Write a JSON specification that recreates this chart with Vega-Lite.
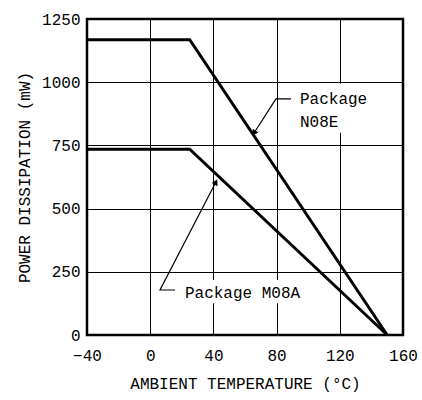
{
  "$schema": "https://vega.github.io/schema/vega-lite/v6.json",
  "width": 316,
  "height": 316,
  "autosize": {"type": "none"},
  "padding": {"left": 87, "top": 19, "right": 19, "bottom": 65},
  "background": "white",
  "config": {
    "view": {"stroke": "black", "strokeWidth": 2.5},
    "axis": {
      "grid": true, "gridColor": "black", "gridWidth": 1, "gridOpacity": 1,
      "ticks": false, "domain": false, "labelFlush": false,
      "labelFont": "Liberation Mono", "labelFontSize": 16, "labelColor": "black",
      "titleFont": "Liberation Mono", "titleFontSize": 16, "titleFontWeight": "normal", "titleColor": "black"
    },
    "text": {"font": "Liberation Mono", "fontSize": 16}
  },
  "datasets": {
    "curves": [
      {"series": "N08E", "temp": -40, "power": 1168},
      {"series": "N08E", "temp": 25, "power": 1168},
      {"series": "N08E", "temp": 150, "power": 0},
      {"series": "M08A", "temp": -40, "power": 735},
      {"series": "M08A", "temp": 25, "power": 735},
      {"series": "M08A", "temp": 150, "power": 0}
    ],
    "leaders": [
      {"series": "N08E", "k": 1, "temp": 89.1, "power": 934},
      {"series": "N08E", "k": 2, "temp": 79.6, "power": 934},
      {"series": "N08E", "k": 3, "temp": 65.7, "power": 799},
      {"series": "M08A", "k": 1, "temp": 15.7, "power": 178},
      {"series": "M08A", "k": 2, "temp": 6.2, "power": 178},
      {"series": "M08A", "k": 3, "temp": 41.6, "power": 605}
    ],
    "boxes": [
      {"t1": 94, "t2": 137, "p1": 800, "p2": 995},
      {"t1": 21, "t2": 98, "p1": 126, "p2": 218}
    ],
    "labels": [
      {"temp": 94.8, "power": 934, "text": "Package"},
      {"temp": 94.8, "power": 843, "text": "N08E"},
      {"temp": 22, "power": 166, "text": "Package M08A"}
    ]
  },
  "layer": [
    {
      "data": {"name": "boxes"},
      "mark": {"type": "rect", "color": "white"},
      "encoding": {
        "x": {"field": "t1", "type": "quantitative", "scale": {"domain": [-40, 160], "nice": false},
              "axis": {"values": [-40, 0, 40, 80, 120, 160], "format": "d", "labelPadding": 12, "titlePadding": 12},
              "title": "AMBIENT TEMPERATURE (°C)"},
        "x2": {"field": "t2"},
        "y": {"field": "p1", "type": "quantitative", "scale": {"domain": [0, 1250], "nice": false},
              "axis": {"values": [0, 250, 500, 750, 1000, 1250], "format": "d", "labelPadding": 7, "titlePadding": 9},
              "title": "POWER DISSIPATION (mW)"},
        "y2": {"field": "p2"}
      }
    },
    {
      "data": {"name": "curves"},
      "mark": {"type": "line", "color": "black", "strokeWidth": 3},
      "encoding": {
        "x": {"field": "temp", "type": "quantitative"},
        "y": {"field": "power", "type": "quantitative"},
        "detail": {"field": "series"}
      }
    },
    {
      "data": {"name": "leaders"},
      "mark": {"type": "line", "color": "black", "strokeWidth": 1.2},
      "encoding": {
        "x": {"field": "temp", "type": "quantitative"},
        "y": {"field": "power", "type": "quantitative"},
        "detail": {"field": "series"},
        "order": {"field": "k"}
      }
    },
    {
      "data": {"name": "leaders"},
      "transform": [{"filter": "datum.series == 'N08E' && datum.k == 3"}],
      "mark": {"type": "point", "shape": "triangle-up", "filled": true, "color": "black", "size": 45, "angle": 213, "opacity": 1},
      "encoding": {
        "x": {"field": "temp", "type": "quantitative"},
        "y": {"field": "power", "type": "quantitative"}
      }
    },
    {
      "data": {"name": "leaders"},
      "transform": [{"filter": "datum.series == 'M08A' && datum.k == 3"}],
      "mark": {"type": "point", "shape": "triangle-up", "filled": true, "color": "black", "size": 45, "angle": 27, "opacity": 1},
      "encoding": {
        "x": {"field": "temp", "type": "quantitative"},
        "y": {"field": "power", "type": "quantitative"}
      }
    },
    {
      "data": {"name": "labels"},
      "mark": {"type": "text", "align": "left", "baseline": "middle", "color": "black"},
      "encoding": {
        "x": {"field": "temp", "type": "quantitative"},
        "y": {"field": "power", "type": "quantitative"},
        "text": {"field": "text"}
      }
    }
  ]
}
